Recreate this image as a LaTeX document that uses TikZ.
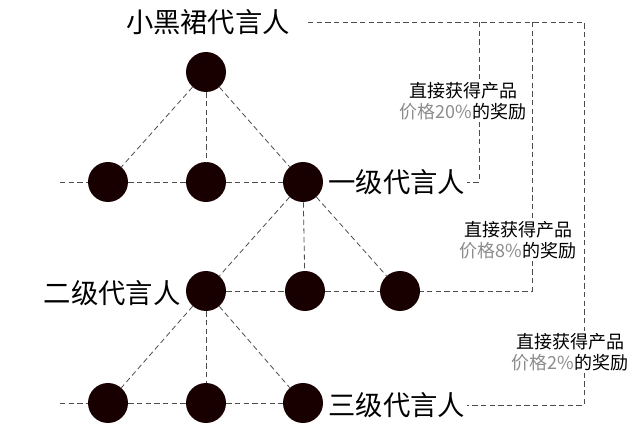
\documentclass[tikz,border=0pt]{standalone}
\usepackage{fontspec}
\newfontfamily\cjk{Noto Sans CJK SC}
\usetikzlibrary{calc}
\tikzset{
  dot/.style={circle, fill=black!90!red, minimum size=30pt, inner sep=0pt},
  link/.style={dash pattern=on 4pt off 2.5pt, line width=0.6pt, black!70},
  level/.style={font=\cjk\fontsize{20.5}{24}\selectfont, inner sep=1pt},
  reward/.style={font=\cjk\fontsize{13.5}{16}\selectfont, align=center, inner sep=1pt},
}
\newcommand{\reward}[1]{直接获得产品\\{\color{black!45}价格#1}的奖励}
\begin{document}
\begin{tikzpicture}[x=0.75pt,y=-0.75pt]
\useasboundingbox (0,0) rectangle (640,435);

% 节点
\node[dot] (top) at (206,72) {};
\node[dot] (a1) at (108,182) {};
\node[dot] (a2) at (206,182) {};
\node[dot] (a3) at (303,182) {};
\node[dot] (b1) at (206,291) {};
\node[dot] (b2) at (305,291) {};
\node[dot] (b3) at (400,291) {};
\node[dot] (c1) at (108,403) {};
\node[dot] (c2) at (206,403) {};
\node[dot] (c3) at (303,403) {};

% 文字
\node[level] (brand) at (208,22) {小黑裙代言人};
\node[level, anchor=west] (lv1) at (327,182) {一级代言人};
\node[level, anchor=east] (lv2) at (182,293) {二级代言人};
\node[level, anchor=west] (lv3) at (327,405) {三级代言人};
\node[reward] (r1) at (463,101) {\reward{20\%}};
\node[reward] (r2) at (518,240) {\reward{8\%}};
\node[reward] (r3) at (570,352) {\reward{2\%}};

% 树
\foreach \n in {a1,a2,a3} \draw[link] (top) -- (\n);
\foreach \n in {b1,b2,b3} \draw[link] (a3) -- (\n);
\foreach \n in {c1,c2,c3} \draw[link] (b1) -- (\n);

% 横线
\coordinate (l1) at (60,182);
\coordinate (l3) at (60,403);
\draw[link] (l1) -- (a1) -- (a2) -- (a3);
\draw[link] (l3) -- (c1) -- (c2) -- (c3);
\draw[link] (b1) -- (b2) -- (b3);

% 右侧括线
\coordinate (t0) at (308,22);
\coordinate (t1) at (479,22);
\coordinate (t2) at (532,22);
\coordinate (t3) at (584,22);
\draw[link] (t0) -- (t3) -- (r3.north -| t3);
\draw[link] (t1) -- (r1.north -| t1);
\draw[link] (t2) -- (r2.north -| t2);
\draw[link] (r1.south -| t1) |- (lv1.east);
\draw[link] (r2.south -| t2) |- (b3);
\draw[link] (r3.south -| t3) |- (lv3.east);
\end{tikzpicture}
\end{document}
